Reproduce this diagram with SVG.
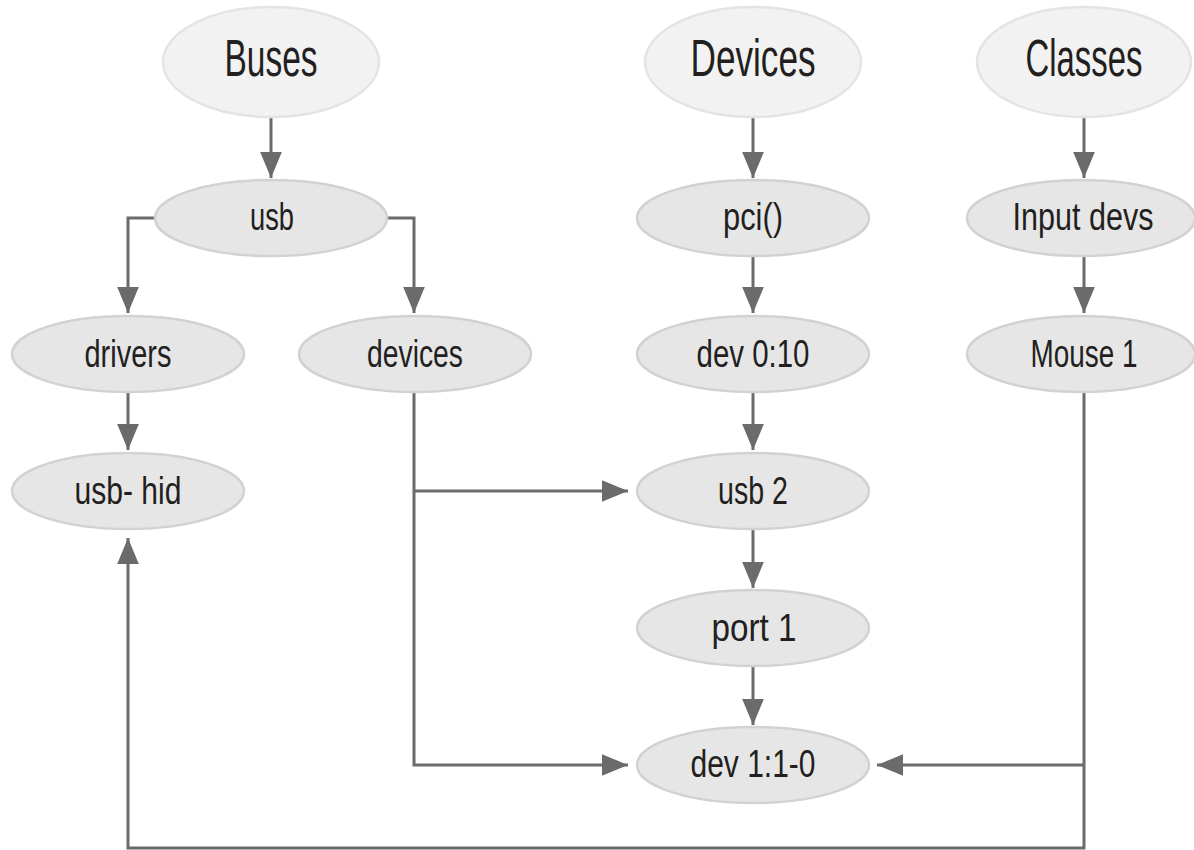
<svg xmlns="http://www.w3.org/2000/svg" width="1194" height="850" viewBox="0 0 1194 850">
<defs>
<style>
.top{fill:#f2f2f2;stroke:#e4e4e4;stroke-width:2.5}
.nd{fill:#e6e6e6;stroke:#d2d2d2;stroke-width:2.5}
.t1{font-family:"Liberation Sans",Arial,sans-serif;font-size:51px;fill:#231f20;text-anchor:middle}
.t2{font-family:"Liberation Sans",Arial,sans-serif;font-size:39px;fill:#231f20;text-anchor:middle}
.c{fill:none;stroke:#6b6b6b;stroke-width:3}
</style>
<marker id="ah" markerUnits="userSpaceOnUse" markerWidth="26" markerHeight="22" viewBox="0 0 24 20" refX="24" refY="10" orient="auto">
<path d="M0,0 L24,10 L0,20 Z" fill="#6b6b6b"/>
</marker>
</defs>
<rect width="1194" height="850" fill="#ffffff"/>
<g id="connectors">
<path class="c" marker-end="url(#ah)" d="M271,117 V178"/>
<path class="c" marker-end="url(#ah)" d="M155,218 H128 V313"/>
<path class="c" marker-end="url(#ah)" d="M387,218 H414 V313"/>
<path class="c" marker-end="url(#ah)" d="M128,392 V450"/>
<path class="c" marker-end="url(#ah)" d="M414,392 V765 H628"/>
<path class="c" marker-end="url(#ah)" d="M414,491 H628"/>
<path class="c" marker-end="url(#ah)" d="M753,117 V178"/>
<path class="c" marker-end="url(#ah)" d="M753,256 V313"/>
<path class="c" marker-end="url(#ah)" d="M753,392 V450"/>
<path class="c" marker-end="url(#ah)" d="M753,529 V588"/>
<path class="c" marker-end="url(#ah)" d="M753,666 V725"/>
<path class="c" marker-end="url(#ah)" d="M1084,117 V178"/>
<path class="c" marker-end="url(#ah)" d="M1084,256 V313"/>
<path class="c" marker-end="url(#ah)" d="M1084,393 V848 H128 V538"/>
<path class="c" marker-end="url(#ah)" d="M1084,765 H877"/>
</g>
<g id="buses"><ellipse class="top" cx="271" cy="62" rx="108" ry="55"/><text class="t1" x="271" y="76" textLength="93" lengthAdjust="spacingAndGlyphs">Buses</text></g>
<g id="devices-root"><ellipse class="top" cx="753" cy="62" rx="108" ry="55"/><text class="t1" x="753" y="76" textLength="125" lengthAdjust="spacingAndGlyphs">Devices</text></g>
<g id="classes"><ellipse class="top" cx="1084" cy="62" rx="107" ry="55"/><text class="t1" x="1084" y="76" textLength="117" lengthAdjust="spacingAndGlyphs">Classes</text></g>
<g id="usb"><ellipse class="nd" cx="271" cy="218" rx="116" ry="38"/><text class="t2" x="272" y="230" textLength="44" lengthAdjust="spacingAndGlyphs">usb</text></g>
<g id="drivers"><ellipse class="nd" cx="128" cy="354" rx="116" ry="38"/><text class="t2" x="128" y="367" textLength="87" lengthAdjust="spacingAndGlyphs">drivers</text></g>
<g id="devices"><ellipse class="nd" cx="415" cy="354" rx="116" ry="38"/><text class="t2" x="415" y="367" textLength="96" lengthAdjust="spacingAndGlyphs">devices</text></g>
<g id="usb-hid"><ellipse class="nd" cx="128" cy="491" rx="116" ry="38"/><text class="t2" x="128" y="504" textLength="107" lengthAdjust="spacingAndGlyphs">usb- hid</text></g>
<g id="pci"><ellipse class="nd" cx="753" cy="218" rx="116" ry="38"/><text class="t2" x="753" y="230" textLength="60" lengthAdjust="spacingAndGlyphs">pci()</text></g>
<g id="dev-0-10"><ellipse class="nd" cx="753" cy="354" rx="116" ry="38"/><text class="t2" x="753" y="367" textLength="113" lengthAdjust="spacingAndGlyphs">dev 0:10</text></g>
<g id="usb-2"><ellipse class="nd" cx="753" cy="491" rx="116" ry="38"/><text class="t2" x="753" y="504" textLength="70" lengthAdjust="spacingAndGlyphs">usb 2</text></g>
<g id="port-1"><ellipse class="nd" cx="753" cy="628" rx="116" ry="38"/><text class="t2" x="754" y="641" textLength="85" lengthAdjust="spacingAndGlyphs">port 1</text></g>
<g id="dev-1-1-0"><ellipse class="nd" cx="753" cy="765" rx="116" ry="38"/><text class="t2" x="753" y="777" textLength="125" lengthAdjust="spacingAndGlyphs">dev 1:1-0</text></g>
<g id="input-devs"><ellipse class="nd" cx="1081" cy="218" rx="114" ry="38"/><text class="t2" x="1083" y="230" textLength="141" lengthAdjust="spacingAndGlyphs">Input devs</text></g>
<g id="mouse-1"><ellipse class="nd" cx="1081" cy="354" rx="114" ry="38"/><text class="t2" x="1084" y="367" textLength="107" lengthAdjust="spacingAndGlyphs">Mouse 1</text></g>
</svg>
